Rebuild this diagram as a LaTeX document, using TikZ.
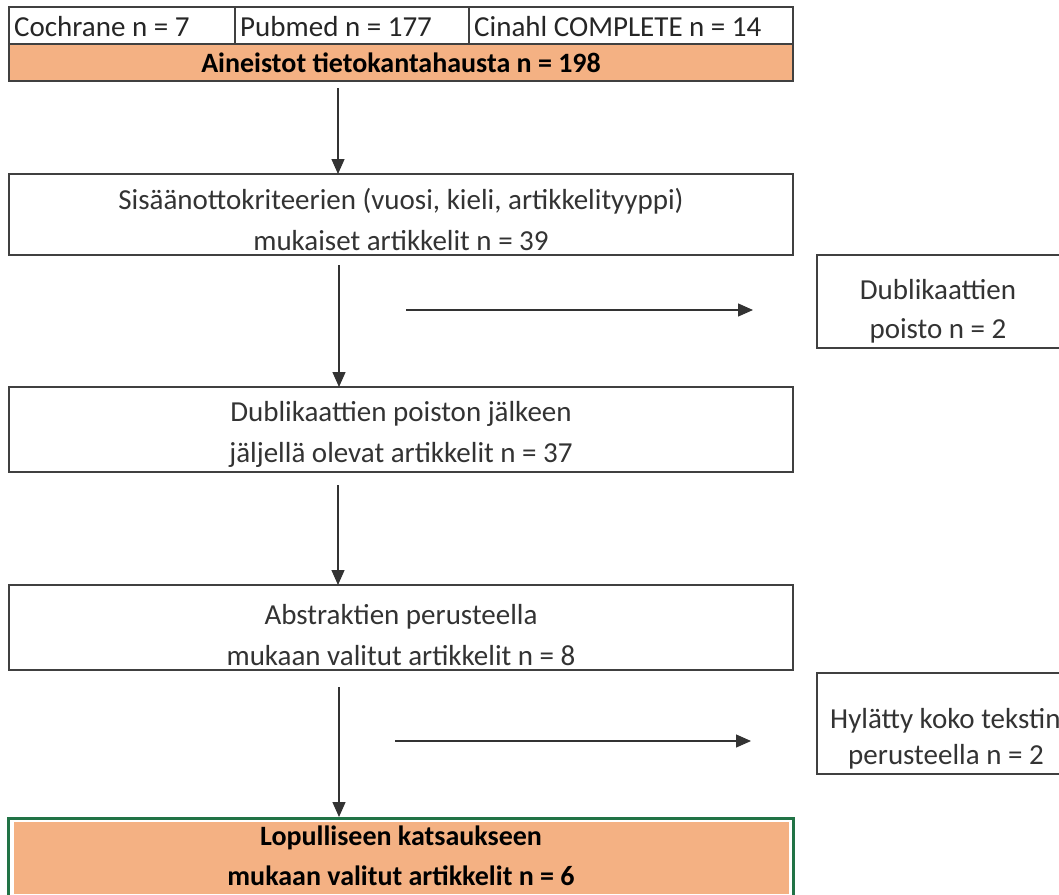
\documentclass[tikz,border=0pt]{standalone}
\usepackage{fontspec}
\setmainfont{Carlito}
\usetikzlibrary{arrows.meta,positioning}
\definecolor{boxline}{HTML}{404040}
\definecolor{orangefill}{HTML}{F4B183}
\definecolor{selgreen}{HTML}{217346}
\tikzset{
  box/.style={draw=boxline, line width=1.2pt, fill=white, inner sep=0pt, outer sep=0pt},
  boxtext/.style={inner sep=0pt, outer sep=0pt, align=center,
    font=\fontsize{29}{41}\selectfont, text=black!80},
  boldtext/.style={inner sep=0pt, outer sep=0pt, align=center,
    font=\fontsize{28}{40}\selectfont\bfseries, text=black},
  cell/.style={draw=boxline, line width=1.2pt, inner sep=0pt, outer sep=0pt, anchor=north west},
  celltext/.style={anchor=west, inner sep=0pt, font=\fontsize{29}{30}\selectfont, text=black!85},
  arr/.style={line width=1.3pt, -{Triangle[length=15pt,width=13pt]}, draw=black!80, fill=black!85},
}
\begin{document}
\begin{tikzpicture}[x=1pt,y=-1pt]
\useasboundingbox (0,0) rectangle (1059,894);
\clip (0,0) rectangle (1059,894);
\fill[white] (0,0) rectangle (1059,894);
% top row cells
\node[cell, minimum width=226pt, minimum height=37pt] (c1) at (9,7) {};
\node[celltext] (t1) at (14,26.5) {Cochrane n = 7};
\node[cell, minimum width=234pt, minimum height=37pt] (c2) at (235,7) {};
\node[celltext] (t2) at (240,26.5) {Pubmed n = 177};
\node[cell, minimum width=324pt, minimum height=37pt] (c3) at (469,7) {};
\node[celltext] (t3) at (474,26.5) {Cinahl COMPLETE n = 14};
% orange total row
\node[box, fill=orangefill, minimum width=784pt, minimum height=37pt] (total) at (401,62.5) {};
\node[boldtext] (totalT) at (401,63) {Aineistot tietokantahausta n = 198};
% main boxes
\node[box, minimum width=784pt, minimum height=81pt] (b2) at (401,214.5) {};
\node[boxtext] (b2T) at (401,219.5) {Sisäänottokriteerien (vuosi, kieli, artikkelityyppi)\\mukaiset artikkelit n = 39};
\node[box, minimum width=784pt, minimum height=85pt] (b3) at (401,429.5) {};
\node[boxtext] (b3T) at (401,434) {Dublikaattien poiston jälkeen\\jäljellä olevat artikkelit n = 37};
\node[box, minimum width=784pt, minimum height=85pt] (b4) at (401,627.5) {};
\node[boxtext] (b4T) at (401,635) {Abstraktien perusteella\\mukaan valitut artikkelit n = 8};
% side boxes
\node[box, minimum width=248pt, minimum height=93pt] (d1) at (941,301.5) {};
\node[boxtext, font=\fontsize{29}{39}\selectfont] (d1T) at (938,311.5) {Dublikaattien\\poisto n = 2};
\node[box, minimum width=300pt, minimum height=101pt] (h1) at (967,723.5) {};
\node[anchor=west, align=left, inner sep=0pt, font=\fontsize{29}{36}\selectfont, text=black!80] (h1T) at (830,739) {Hylätty koko tekstin\\\hspace*{18pt}perusteella n = 2};
% final box
\node[draw=selgreen, line width=3pt, fill=white, inner sep=0pt, outer sep=0pt, minimum width=785pt, minimum height=80pt] (fin) at (401,858) {};
\node[fill=orangefill, inner sep=0pt, minimum width=775pt, minimum height=72pt] (finF) at (401,858) {};
\node[boldtext] (finT) at (401,856) {Lopulliseen katsaukseen\\mukaan valitut artikkelit n = 6};
% arrows
\draw[arr] ([xshift=-63pt,yshift=-7pt]total.south) -- ([xshift=-63pt]b2.north);
\draw[arr] ([xshift=-62pt,yshift=-10pt]b2.south) -- ([xshift=-62pt]b3.north);
\draw[arr] ([xshift=-63pt,yshift=-13pt]b3.south) -- ([xshift=-63pt]b4.north);
\draw[arr] ([xshift=-62pt,yshift=-17pt]b4.south) -- ([xshift=-62pt,yshift=1pt]fin.north);
\coordinate (s1) at (406,310);
\coordinate (e1) at (753,310);
\draw[arr] (s1) -- (e1);
\coordinate (s2) at (395,741);
\coordinate (e2) at (751,741);
\draw[arr] (s2) -- (e2);
\end{tikzpicture}
\end{document}
